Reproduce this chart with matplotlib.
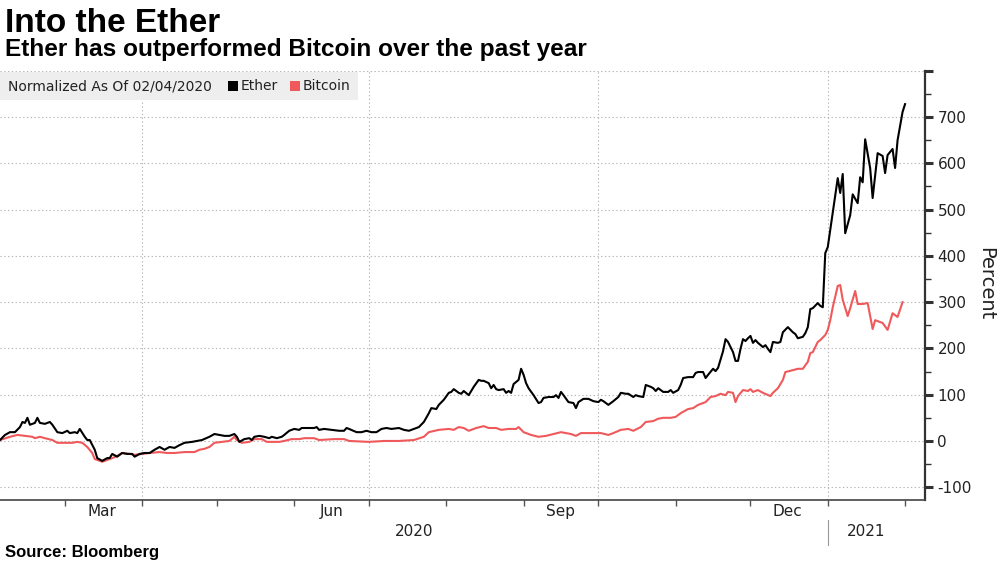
import datetime as dt
import numpy as np
import matplotlib
matplotlib.use("Agg")
import matplotlib.pyplot as plt
import matplotlib.dates as mdates
import matplotlib.ticker as mticker
import matplotlib.transforms as mtransforms
from matplotlib.patches import Rectangle
from matplotlib.lines import Line2D

# ---------------- data (percent change, normalized as of 2020-02-04) ----------------
start_date = dt.date(2020, 2, 4)

eth_day = [0, 2, 4, 6, 8, 9, 10, 11, 12, 14, 15, 16, 18, 20, 21, 23, 25, 27, 28, 30,
           31, 32, 34, 35, 36, 38, 39, 41, 43, 44, 45, 47, 49, 51, 53, 54, 56, 58, 60, 62,
           64, 66, 68, 70, 72, 74, 77, 81, 84, 86, 88, 90, 92, 94, 95, 96, 98, 100, 101, 102,
           104, 106, 108, 109, 111, 113, 114, 116, 118, 120, 121, 126, 127, 128, 130, 133, 136, 138, 139, 140,
           143, 145, 147, 149, 151, 153, 155, 157, 160, 162, 164, 166, 168, 170, 172, 173, 175, 176, 178, 180,
           181, 182, 184, 185, 186, 188, 189, 190, 192, 193, 194, 196, 197, 198, 199, 200, 202, 203, 204, 205,
           206, 208, 209, 210, 211, 212, 214, 216, 217, 218, 220, 222, 223, 224, 225, 226, 228, 230, 231, 232,
           234, 236, 238, 240, 241, 242, 244, 246, 248, 249, 251, 252, 254, 255, 256, 258, 259, 261, 262, 263,
           264, 266, 268, 269, 270, 272, 273, 274, 276, 278, 279, 280, 282, 283, 284, 286, 287, 288, 290, 291,
           292, 294, 295, 296, 297, 298, 299, 300, 301, 302, 303, 304, 306, 307, 308, 309, 310, 312, 313, 314,
           316, 318, 319, 320, 322, 323, 324, 325, 326, 328, 329, 330, 331, 332, 333, 334, 336, 337, 338, 339,
           341, 342, 344, 345, 346, 347, 349, 350, 352, 354, 355, 356, 358, 359, 360, 362, 363]
eth_pct = [2, 13, 19, 19, 30, 41, 39, 50, 35, 39, 50, 39, 37, 41, 35, 19, 17, 22, 17, 19,
           17, 26, 9, 2, 2, -19, -37, -43, -37, -37, -28, -34, -26, -28, -28, -34, -28, -26, -26, -19,
           -13, -19, -13, -15, -9, -4, -2, 2, 9, 15, 13, 11, 11, 15, 9, -2, 4, 6, 2, 9,
           11, 9, 6, 9, 6, 9, 13, 22, 26, 24, 28, 28, 30, 24, 26, 24, 22, 22, 28, 26,
           19, 19, 22, 19, 19, 26, 28, 26, 28, 24, 22, 26, 30, 41, 60, 71, 69, 78, 89, 104,
           106, 112, 104, 102, 108, 99, 108, 117, 132, 130, 130, 125, 114, 121, 112, 110, 112, 104, 108, 104,
           123, 132, 156, 143, 125, 114, 99, 82, 84, 93, 95, 95, 99, 93, 106, 99, 84, 82, 71, 84,
           91, 91, 86, 84, 89, 86, 78, 86, 95, 104, 102, 102, 95, 99, 97, 95, 121, 117, 114, 108,
           114, 106, 106, 110, 104, 110, 121, 136, 138, 138, 147, 149, 149, 136, 143, 156, 151, 158, 194, 220,
           214, 192, 173, 173, 199, 220, 216, 222, 227, 212, 218, 212, 203, 207, 199, 192, 214, 212, 214, 235,
           246, 235, 231, 222, 225, 233, 246, 285, 287, 298, 292, 289, 406, 419, 456, 492, 568, 536, 577, 449,
           488, 533, 514, 570, 559, 652, 590, 525, 622, 616, 579, 618, 631, 590, 650, 711, 728]

btc_day = [0, 4, 7, 10, 13, 14, 16, 18, 21, 23, 26, 29, 31, 33, 35, 37, 38, 41, 44, 46,
           49, 52, 54, 57, 60, 64, 67, 70, 74, 78, 80, 82, 84, 86, 89, 92, 94, 95, 97, 100,
           102, 105, 107, 109, 112, 114, 117, 120, 122, 126, 128, 134, 138, 140, 148, 154, 160, 166, 170, 172,
           176, 180, 182, 184, 186, 188, 191, 194, 196, 199, 201, 204, 207, 208, 210, 213, 216, 219, 222, 225,
           227, 229, 231, 233, 237, 241, 244, 246, 249, 252, 254, 257, 259, 262, 264, 266, 269, 271, 273, 276,
           278, 280, 283, 285, 287, 289, 291, 292, 294, 295, 296, 298, 300, 301, 302, 304, 306, 309, 310, 312,
           314, 315, 318, 320, 322, 324, 325, 326, 328, 329, 331, 332, 333, 334, 336, 337, 338, 340, 341, 343,
           344, 346, 348, 350, 351, 352, 354, 356, 358, 360, 362]
btc_pct = [2, 9, 13, 11, 9, 6, 9, 6, 2, -4, -4, -4, -2, -4, -13, -26, -39, -45, -39, -35,
           -26, -28, -30, -28, -26, -24, -26, -26, -24, -24, -19, -17, -13, -4, -2, 0, 9, 2, -4, -2,
           4, 4, -2, -2, -2, 0, 4, 4, 6, 6, 2, 4, 4, 0, -2, 0, 0, 2, 9, 19,
           24, 26, 24, 30, 28, 22, 28, 32, 28, 28, 24, 26, 26, 30, 19, 13, 9, 11, 15, 19,
           17, 15, 11, 17, 17, 17, 13, 17, 24, 26, 22, 30, 41, 43, 48, 50, 50, 52, 60, 69,
           71, 78, 84, 95, 97, 102, 99, 106, 104, 84, 97, 110, 108, 112, 106, 110, 104, 97, 104, 114,
           132, 149, 153, 156, 156, 171, 190, 192, 214, 218, 229, 240, 261, 289, 335, 337, 305, 270, 287, 324,
           296, 296, 298, 242, 261, 259, 255, 240, 276, 268, 300]

y_ticks = [-100, 0, 100, 200, 300, 400, 500, 600, 700, 800]
y_tick_labels = ["-100", "0", "100", "200", "300", "400", "500", "600", "700", ""]
month_labels = ["Mar", "Jun", "Sep", "Dec"]
month_label_dates = [dt.date(2020, 3, 16), dt.date(2020, 6, 16), dt.date(2020, 9, 16), dt.date(2020, 12, 16)]
year_labels = ["2020", "2021"]
grid_dates = [dt.date(2020, 4, 1), dt.date(2020, 7, 1), dt.date(2020, 10, 1), dt.date(2021, 1, 1)]

series_names = ["Ether", "Bitcoin"]
colors = ["#000000", "#f0595b"]

# ---------------- figure ----------------
plt.rcParams["font.family"] = ["DejaVu Sans"]
plt.rcParams["axes.unicode_minus"] = False

fig = plt.figure(figsize=(10, 5.62), dpi=100)
ax = fig.add_axes([0.0, 0.110, 0.925, 0.764])

eth_dates = [start_date + dt.timedelta(days=d) for d in eth_day]
btc_dates = [start_date + dt.timedelta(days=d) for d in btc_day]

ax.plot(btc_dates, btc_pct, color=colors[1], lw=1.5, zorder=3)
ax.plot(eth_dates, eth_pct, color=colors[0], lw=1.5, zorder=4)

x_left = mdates.date2num(start_date)
x_right = x_left + 371
ax.set_xlim(x_left, x_right)
ax.set_ylim(-128, 800)

# grid
grid_kw = dict(color="#b5b5b5", lw=0.8, ls=(0, (1.2, 2.2)), zorder=1)
for yv in y_ticks:
    ax.axhline(yv, **grid_kw)
for gd in grid_dates:
    ax.axvline(mdates.date2num(gd), **grid_kw)

# spines
for s in ["left", "top"]:
    ax.spines[s].set_visible(False)
ax.spines["right"].set_color("#333333")
ax.spines["right"].set_linewidth(1.6)
ax.spines["bottom"].set_color("#444444")
ax.spines["bottom"].set_linewidth(1.2)

# y axis on right
ax.yaxis.tick_right()
ax.set_yticks(y_ticks)
ax.set_yticklabels(y_tick_labels)
ax.yaxis.set_minor_locator(mticker.MultipleLocator(50))
ax.tick_params(axis="y", which="major", direction="out", length=6, width=2.2,
               color="#333333", labelsize=11, pad=3, labelcolor="#222222")
ax.tick_params(axis="y", which="minor", direction="out", length=4, width=1, color="#333333")

# x axis: ticks at month starts, labels mid-month
ax.xaxis.set_major_locator(mdates.MonthLocator())
ax.xaxis.set_major_formatter(mticker.NullFormatter())
ax.xaxis.set_minor_locator(mticker.FixedLocator([mdates.date2num(d) for d in month_label_dates]))
ax.xaxis.set_minor_formatter(mticker.FixedFormatter(month_labels))
ax.tick_params(axis="x", which="major", direction="out", length=4, width=1, color="#555555")
ax.tick_params(axis="x", which="minor", length=0, labelsize=11, pad=3, labelcolor="#222222")

# year labels and separator
trans = mtransforms.blended_transform_factory(ax.transData, ax.transAxes)
jan1 = mdates.date2num(dt.date(2021, 1, 1))
last = mdates.date2num(eth_dates[-1])
ax.text((x_left + jan1) / 2, -0.072, year_labels[0], transform=trans, ha="center", va="center",
        fontsize=11, color="#222222")
ax.text((jan1 + last) / 2, -0.072, year_labels[1], transform=trans, ha="center", va="center",
        fontsize=11, color="#222222")
ax.add_line(Line2D([jan1, jan1], [-0.045, -0.105], transform=trans, color="#999999", lw=0.8,
                   clip_on=False))

# titles
fig.text(0.005, 0.943, "Into the Ether", fontsize=24, fontweight="bold",
         family=["Liberation Sans", "DejaVu Sans"], color="#000000", va="baseline")
fig.text(0.005, 0.9004, "Ether has outperformed Bitcoin over the past year", fontsize=17.6,
         fontweight="bold", family=["Liberation Sans", "DejaVu Sans"], color="#000000", va="baseline")
fig.text(0.005, 0.009, "Source: Bloomberg", fontsize=12, fontweight="bold",
         family=["Liberation Sans", "DejaVu Sans"], color="#000000", va="baseline")
fig.text(0.986, 0.496, "Percent", rotation=270, fontsize=14, ha="center", va="center", color="#222222")

# legend box
H = 562.0
W = 1000.0
fig.patches.append(Rectangle((0, 1 - 100 / H), 358 / W, 28 / H, transform=fig.transFigure,
                             facecolor="#eeeeee", edgecolor="none", zorder=5))
fig.text(8 / W, 1 - 86 / H, "Normalized As Of 02/04/2020", fontsize=10, va="center", ha="left",
         color="#222222", zorder=6)
fig.patches.append(Rectangle((228 / W, 1 - 91 / H), 10 / W, 10 / H, transform=fig.transFigure,
                             facecolor=colors[0], edgecolor="none", zorder=6))
fig.text(241 / W, 1 - 86 / H, series_names[0], fontsize=10, va="center", ha="left", color="#222222", zorder=6)
fig.patches.append(Rectangle((290 / W, 1 - 91 / H), 10 / W, 10 / H, transform=fig.transFigure,
                             facecolor=colors[1], edgecolor="none", zorder=6))
fig.text(303 / W, 1 - 86 / H, series_names[1], fontsize=10, va="center", ha="left", color="#222222", zorder=6)

fig.savefig("out.png", dpi=100)
